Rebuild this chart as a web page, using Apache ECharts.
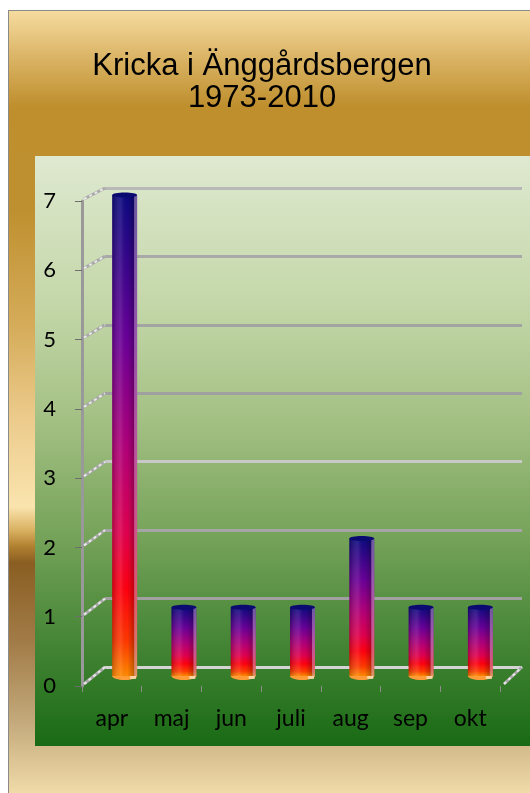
<!DOCTYPE html>
<html>
<head>
<meta charset="utf-8">
<script src="https://cdn.jsdelivr.net/npm/echarts@6/dist/echarts.min.js"></script>
<style>
  html, body { margin: 0; padding: 0; background: #ffffff; }
  #chart { width: 530px; height: 793px; }
</style>
</head>
<body>
<div id="chart"></div>
<script>
const categories = ['apr', 'maj', 'jun', 'juli', 'aug', 'sep', 'okt'];
const values = [7, 1, 1, 1, 2, 1, 1];
const yTicks = [0, 1, 2, 3, 4, 5, 6, 7];
const titleText = 'Kricka i Änggårdsbergen\n1973-2010';

const chart = echarts.init(document.getElementById('chart'));

const GRID_BACK = { left: 105, right: 8, top: 188, bottom: 126 };
const GRID_MID = { left: 95, right: 20, top: 195, bottom: 117 };
const GRID_FRONT = { left: 82, right: 30, top: 201, bottom: 107 };

const gridColors = ['#d4d4d4', '#a0a0a0', '#a5a5a5', '#c8c8c8', '#a0a0a0', '#a3a3a3', '#a9a9a9', '#b8b8b8'];

const barFill = new echarts.graphic.LinearGradient(0, 0, 0, 1, [
  { offset: 0, color: '#0c0a80' },
  { offset: 0.3, color: '#6a0098' },
  { offset: 0.52, color: '#b0007a' },
  { offset: 0.7, color: '#e00050' },
  { offset: 0.82, color: '#ff0010' },
  { offset: 0.93, color: '#ff3a00' },
  { offset: 1, color: '#ff8a00' }
]);
const barShade = new echarts.graphic.LinearGradient(0, 0, 1, 0, [
  { offset: 0, color: 'rgba(0,0,0,0.22)' },
  { offset: 0.35, color: 'rgba(255,255,255,0.10)' },
  { offset: 0.6, color: 'rgba(0,0,0,0)' },
  { offset: 0.88, color: 'rgba(0,0,0,0.25)' },
  { offset: 1, color: 'rgba(0,0,0,0.1)' }
]);

function renderBar(params, api) {
  const i = api.value(0);
  const v = api.value(1);
  const top = api.coord([i, v]);
  const base = api.coord([i, 0]);
  const bw = api.size([1, 0])[0] * 0.42;
  const x = top[0] - bw / 2;
  const h = base[1] - top[1];
  return {
    type: 'group',
    children: [
      { type: 'ellipse', shape: { cx: top[0], cy: base[1], rx: bw / 2, ry: 4 },
        style: { fill: '#ff9c38' } },
      { type: 'rect', shape: { x: x + bw - 7, y: base[1] - 1, width: 6, height: 4 },
        style: { fill: 'rgba(255,225,190,0.8)' } },
      { type: 'rect', shape: { x: x, y: top[1], width: bw, height: h },
        style: { fill: barFill } },
      { type: 'rect', shape: { x: x, y: top[1], width: bw, height: h },
        style: { fill: barShade } },
      { type: 'rect', shape: { x: x + bw - 3, y: top[1], width: 3, height: h },
        style: { fill: 'rgba(230,190,230,0.45)' } },
      { type: 'ellipse', shape: { cx: top[0], cy: top[1], rx: bw / 2, ry: 2.5 },
        style: { fill: '#0a0a70' } }
    ]
  };
}

const option = {
  animation: false,
  title: {
    text: titleText,
    left: 257,
    top: 45,
    textAlign: 'center',
    textStyle: {
      fontFamily: 'Liberation Sans, Arial, sans-serif',
      fontSize: 31,
      fontWeight: 'normal',
      color: '#000000',
      lineHeight: 32
    }
  },
  graphic: [
    { type: 'rect', z: -20, shape: { x: 8.5, y: 10.5, width: 540, height: 800 },
      style: {
        stroke: '#8a8a8a', lineWidth: 1,
        fill: new echarts.graphic.LinearGradient(0, 0, 0, 1, [
          { offset: 0, color: '#f6dca0' },
          { offset: 0.0625, color: '#d9b262' },
          { offset: 0.12, color: '#bf8f2e' },
          { offset: 0.25, color: '#bf902f' },
          { offset: 0.4, color: '#d6ad5c' },
          { offset: 0.51, color: '#eccb8c' },
          { offset: 0.62, color: '#fae4ae' },
          { offset: 0.65, color: '#d8b060' },
          { offset: 0.67, color: '#b08030' },
          { offset: 0.69, color: '#8a5e22' },
          { offset: 0.79, color: '#a27c48' },
          { offset: 0.89, color: '#c4aa7c' },
          { offset: 0.98, color: '#f2dcaa' },
          { offset: 1, color: '#f4deae' }
        ])
      } },
    { type: 'rect', z: -19, shape: { x: 35, y: 156, width: 500, height: 590 },
      style: {
        fill: new echarts.graphic.LinearGradient(0, 0, 0, 1, [
          { offset: 0, color: '#dfe9d0' },
          { offset: 0.25, color: '#c4d7a9' },
          { offset: 0.45, color: '#a3c083' },
          { offset: 0.65, color: '#74a258' },
          { offset: 0.82, color: '#468636' },
          { offset: 1, color: '#196a14' }
        ])
      } }
  ],
  grid: [
    Object.assign({}, GRID_BACK),
    Object.assign({}, GRID_MID),
    Object.assign({}, GRID_FRONT)
  ],
  xAxis: [
    { gridIndex: 0, type: 'category', data: categories, show: false },
    { gridIndex: 1, type: 'category', data: categories, show: false },
    { gridIndex: 2, type: 'category', data: categories,
      axisLine: { show: false },
      axisTick: { show: true, interval: 0, length: 6, lineStyle: { color: '#8c8c8c', width: 1 } },
      axisLabel: { margin: 21, fontFamily: 'Lato, sans-serif', fontSize: 23, color: '#000000' },
      splitLine: { show: false } }
  ],
  yAxis: [
    { gridIndex: 0, type: 'value', min: 0, max: 7, interval: 1,
      axisLine: { show: false }, axisTick: { show: false }, axisLabel: { show: false },
      splitLine: { show: true, lineStyle: { color: gridColors, width: 3 } } },
    { gridIndex: 1, type: 'value', min: 0, max: 7, interval: 1, show: false,
      splitLine: { show: false } },
    { gridIndex: 2, type: 'value', min: 0, max: 7, interval: 1,
      axisLine: { show: true, lineStyle: { color: '#999999', width: 3 } },
      axisTick: { show: true, length: 7, lineStyle: { color: '#6e6e6e', width: 1 } },
      axisLabel: { margin: 26, fontFamily: 'Lato, sans-serif', fontSize: 22, color: '#000000' },
      splitLine: { show: false } }
  ],
  series: [
    { type: 'custom', xAxisIndex: 1, yAxisIndex: 1, z: 3,
      renderItem: renderBar,
      data: values.map((v, i) => [i, v]) }
  ]
};

chart.setOption(option);

// 3D wall connectors from the front axis to the back wall, positioned by the axis scales
const connectors = [];
function addConnector(x1, y1, x2, y2) {
  connectors.push({
    type: 'line', z: 5,
    shape: { x1: x1, y1: y1, x2: x2, y2: y2 },
    style: { stroke: '#a8a8a8', lineWidth: 3 }
  });
  connectors.push({
    type: 'line', z: 6,
    shape: { x1: x1, y1: y1, x2: x2, y2: y2 },
    style: { stroke: '#e8e8e8', lineWidth: 2, lineDash: [3, 3] }
  });
}
yTicks.forEach(function (t) {
  const yf = chart.convertToPixel({ yAxisIndex: 2 }, t);
  const yb = chart.convertToPixel({ yAxisIndex: 0 }, t);
  addConnector(GRID_FRONT.left + 2, yf - 2, GRID_BACK.left, yb);
});
const yf0 = chart.convertToPixel({ yAxisIndex: 2 }, 0);
const yb0 = chart.convertToPixel({ yAxisIndex: 0 }, 0);
addConnector(530 - GRID_FRONT.right + 4, yf0 - 2, 530 - GRID_BACK.right, yb0);
chart.setOption({ graphic: option.graphic.concat(connectors) });
</script>
</body>
</html>
